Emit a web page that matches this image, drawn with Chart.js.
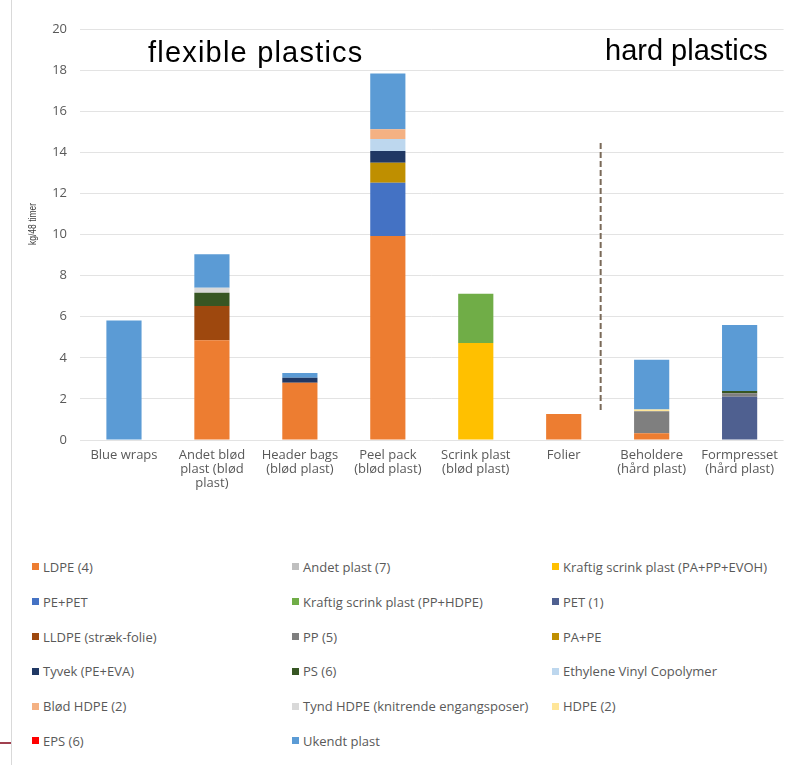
<!DOCTYPE html>
<html>
<head>
<meta charset="utf-8">
<script src="https://cdn.jsdelivr.net/npm/chart.js@4"></script>
<style>
  body { margin: 0; background: #fff; font-family: 'Open Sans', 'Liberation Sans', Arial, sans-serif; }
  #wrap { position: relative; width: 786px; height: 765px; overflow: hidden; }
  #box { position: absolute; left: 0; top: 0; width: 786px; height: 510px; }
  #frame { position: absolute; left: 11px; top: 0; width: 1px; height: 765px; background: #d9d9d9; }
  #tick { position: absolute; left: 0; top: 742px; width: 11px; height: 2px; background: #a0404f; }
  #legend { position: absolute; left: 32px; top: 549.6px; display: grid;
    grid-template-columns: 260px 260px 234px; grid-auto-rows: 34.8px;
    font-size: 13px; color: #595959; }
  .item { display: flex; align-items: center; white-space: nowrap; }
  .sw { width: 7px; height: 7px; margin-right: 4px; flex: none; }
</style>
</head>
<body>
<div id="wrap">
  <div id="frame"></div>
  <div id="tick"></div>
  <div id="box"><canvas id="c"></canvas></div>
  <div id="legend"></div>
</div>
<script>
// categories (multi-line labels)
const categories = [
  ['Blue wraps'],
  ['Andet blød', 'plast (blød', 'plast)'],
  ['Header bags', '(blød plast)'],
  ['Peel pack', '(blød plast)'],
  ['Scrink plast', '(blød plast)'],
  ['Folier'],
  ['Beholdere', '(hård plast)'],
  ['Formpresset', '(hård plast)']
]

// series, kg/48 timer per category
const ldpe        = [0, 4.85, 2.79, 9.93, 0, 1.26, 0.33, 0]
const andetPlast  = [0, 0, 0, 0, 0, 0, 0, 0]
const kraftigEvoh = [0, 0, 0, 0, 4.72, 0, 0, 0]
const pePet       = [0, 0, 0, 2.59, 0, 0, 0, 0]
const kraftigHdpe = [0, 0, 0, 0, 2.4, 0, 0, 0]
const pet         = [0, 0, 0, 0, 0, 0, 0, 2.11]
const lldpe       = [0, 1.67, 0, 0, 0, 0, 0, 0]
const pp          = [0, 0, 0, 0, 0, 0, 1.07, 0.16]
const paPe        = [0, 0, 0, 0.97, 0, 0, 0, 0]
const tyvek       = [0, 0, 0.24, 0.57, 0, 0, 0, 0]
const ps          = [0, 0.65, 0, 0, 0, 0, 0, 0.11]
const eva         = [0, 0, 0, 0.59, 0, 0, 0, 0]
const blodHdpe    = [0, 0, 0, 0.47, 0, 0, 0, 0]
const tyndHdpe    = [0, 0.24, 0, 0, 0, 0, 0, 0]
const hdpe        = [0, 0, 0, 0, 0, 0, 0.08, 0]
const eps         = [0, 0, 0, 0, 0, 0, 0, 0]
const ukendt      = [5.81, 1.63, 0.23, 2.72, 0, 0, 2.42, 3.22]

const yTicks = { min: 0, max: 20, step: 2 }
const yTitle = 'kg/48 timer'

// vertical divider between flexible and hard plastics (category index / y values)
const dividerAt = 5.42
const dividerFrom = 1.35
const dividerTo = 14.45

const series = [
  ['LDPE (4)', ldpe, '#ED7D31'],
  ['Andet plast (7)', andetPlast, '#BFBFBF'],
  ['Kraftig scrink plast (PA+PP+EVOH)', kraftigEvoh, '#FFC000'],
  ['PE+PET', pePet, '#4472C4'],
  ['Kraftig scrink plast (PP+HDPE)', kraftigHdpe, '#70AD47'],
  ['PET (1)', pet, '#4F6090'],
  ['LLDPE (stræk-folie)', lldpe, '#9E480E'],
  ['PP (5)', pp, '#7F7F7F'],
  ['PA+PE', paPe, '#BF8F00'],
  ['Tyvek (PE+EVA)', tyvek, '#203864'],
  ['PS (6)', ps, '#375623'],
  ['Ethylene Vinyl Copolymer', eva, '#BDD7EE'],
  ['Blød HDPE (2)', blodHdpe, '#F4B183'],
  ['Tynd HDPE (knitrende engangsposer)', tyndHdpe, '#D9D9D9'],
  ['HDPE (2)', hdpe, '#FFE699'],
  ['EPS (6)', eps, '#FF0000'],
  ['Ukendt plast', ukendt, '#5B9BD5']
]

const datasets = series.map(s => ({
  label: s[0],
  data: s[1],
  backgroundColor: s[2],
  borderWidth: 0,
  barPercentage: 0.4,
  categoryPercentage: 1
}))

const FONT = "'Open Sans', 'Liberation Sans', Arial, sans-serif"

const overlay = {
  id: 'overlay',
  afterDatasetsDraw(chart) {
    const { ctx, scales } = chart
    const x = scales.x.getPixelForValue(dividerAt)
    ctx.save()
    ctx.strokeStyle = '#7a6a58'
    ctx.lineWidth = 2
    ctx.setLineDash([6, 3])
    ctx.beginPath()
    ctx.moveTo(x, scales.y.getPixelForValue(dividerTo))
    ctx.lineTo(x, scales.y.getPixelForValue(dividerFrom))
    ctx.stroke()
    ctx.setLineDash([])
    ctx.fillStyle = '#000'
    ctx.font = '29px "Liberation Sans", Arial, sans-serif'
    ctx.textBaseline = 'alphabetic'
    ctx.letterSpacing = '1.2px'
    ctx.fillText('flexible plastics', 148, 62)
    ctx.letterSpacing = '0px'
    ctx.fillText('hard plastics', 605, 60)
    // axis title (narrow)
    ctx.translate(33, 224)
    ctx.rotate(-Math.PI / 2)
    ctx.scale(0.74, 1)
    ctx.font = '11.5px "Liberation Sans", Arial, sans-serif'
    ctx.fillStyle = '#404040'
    ctx.textAlign = 'center'
    ctx.textBaseline = 'middle'
    ctx.fillText(yTitle, 0, 0)
    ctx.restore()
  }
}

new Chart(document.getElementById('c'), {
  type: 'bar',
  data: { labels: categories, datasets },
  options: {
    responsive: true,
    maintainAspectRatio: false,
    animation: false,
    layout: { padding: { left: 25, top: 29, right: 0, bottom: 0 } },
    plugins: { legend: { display: false }, tooltip: { enabled: false } },
    scales: {
      x: {
        stacked: true,
        grid: { display: false, drawTicks: false },
        border: { display: false },
        ticks: { color: '#595959', padding: 8, maxRotation: 0, autoSkip: false,
          font: { family: FONT, size: 13, lineHeight: '14px' } },
        afterFit(s) { s.height = 70 }
      },
      y: {
        stacked: true,
        min: yTicks.min, max: yTicks.max,
        grid: { color: '#e3e3e3', drawTicks: false },
        border: { display: false },
        ticks: { stepSize: yTicks.step, color: '#595959', padding: 13,
          font: { family: FONT, size: 13 } },
        afterFit(s) { s.width = 55 }
      }
    }
  },
  plugins: [overlay]
})

const leg = document.getElementById('legend')
series.forEach(s => {
  const d = document.createElement('div')
  d.className = 'item'
  d.innerHTML = '<span class="sw" style="background:' + s[2] + '"></span><span>' + s[0] + '</span>'
  leg.appendChild(d)
})
</script>
</body>
</html>
